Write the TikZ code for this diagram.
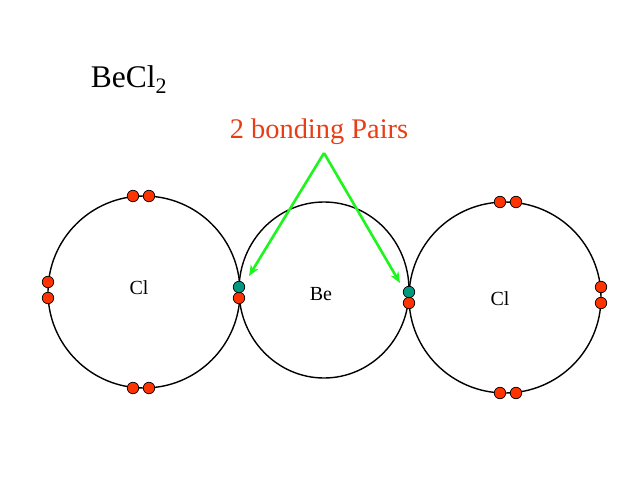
\documentclass[tikz,border=0pt]{standalone}
\usepackage{fontspec}
\setmainfont{Liberation Serif}
\usetikzlibrary{arrows.meta,shapes.geometric}
\definecolor{bondred}{RGB}{255,51,0}
\definecolor{bondteal}{RGB}{0,153,128}
\definecolor{labelred}{RGB}{232,62,22}
\definecolor{arrowgreen}{RGB}{30,245,30}
\tikzset{
  shell/.style={draw=black,line width=1.4pt,ellipse,inner sep=0pt},
  electron/.style={circle,draw=black,line width=0.7pt,fill=bondred,minimum size=11.5pt,inner sep=0pt},
  sharedelectron/.style={electron,fill=bondteal},
  atomlabel/.style={font=\fontsize{20}{22}\selectfont,inner sep=0pt},
  pointer/.style={draw=arrowgreen,line width=2.6pt,-{Stealth[length=11pt,width=9pt]}}
}
\begin{document}
\begin{tikzpicture}[x=1pt,y=-1pt]
  \useasboundingbox (0,0) rectangle (638,479);

  %shells
  \node[shell,minimum width=192pt,minimum height=192pt] (shellA) at (144,292) {};
  \node[shell,minimum width=170pt,minimum height=176pt] (shellB) at (324,290) {};
  \node[shell,minimum width=192pt,minimum height=191pt] (shellC) at (505,297.5) {};

  %titles
  \node[inner sep=0pt,font=\fontsize{31.5}{34}\selectfont] (title) at (129,80) {BeCl$_{\mathrm{2}}$};
  \node[inner sep=0pt,font=\fontsize{28.4}{32}\selectfont,text=labelred] (pairs) at (319,132) {2 bonding Pairs};

  %atoms
  \node[atomlabel] (clA) at (139,288) {Cl};
  \node[atomlabel] (be) at (321,294) {Be};
  \node[atomlabel] (clC) at (500,299) {Cl};

  %lone pairs
  \foreach \name/\px/\py in {a/133/196,b/149/196,c/48/282,d/48/298,e/133/388,f/149/388,g/239/298,
    h/409/303,i/500/202,j/516/202,k/601/287,l/601/303,m/500/393,n/516/393}
    \node[electron] (e\name) at (\px,\py) {};

  %shared electrons
  \node[sharedelectron] (sharedA) at (239,287) {};
  \node[sharedelectron] (sharedB) at (409,292) {};

  %arrows
  \coordinate (apex) at (324,153);
  \coordinate (tipA) at (249,276);
  \coordinate (tipB) at (400,283);
  \draw[pointer] (apex) -- (tipA);
  \draw[pointer] (apex) -- (tipB);
\end{tikzpicture}
\end{document}
